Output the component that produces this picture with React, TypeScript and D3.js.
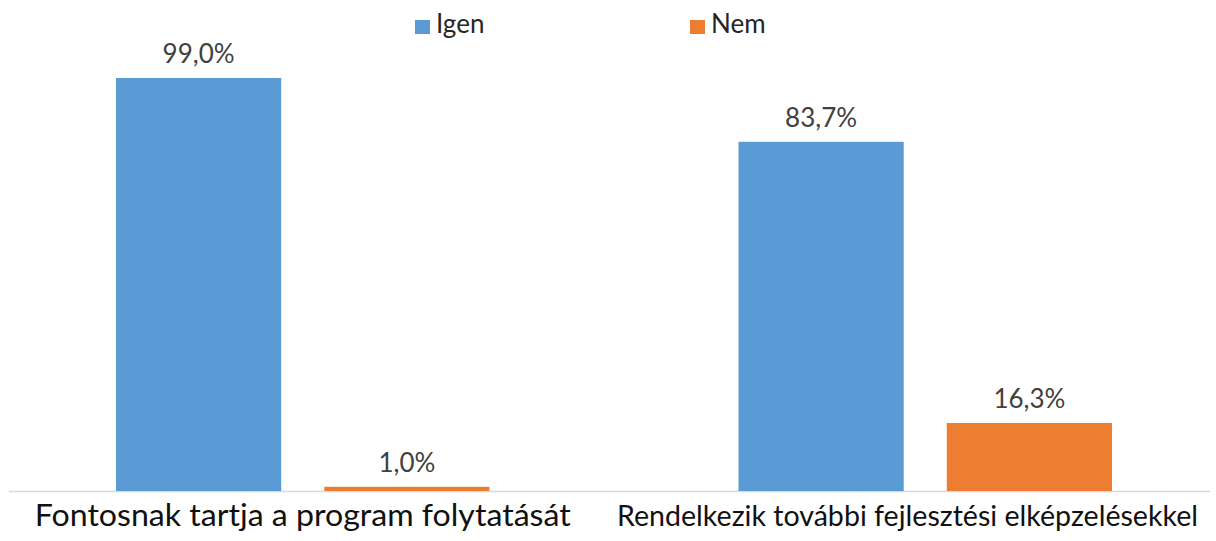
import * as d3 from "d3";

const categories = [
  "Fontosnak tartja a program folytatását",
  "Rendelkezik további fejlesztési elképzelésekkel",
];
const seriesNames = ["Igen", "Nem"];
const igenValues = [99.0, 83.7];
const nemValues = [1.0, 16.3];
const colors = ["#5B9BD5", "#ED7D31"];

const W = 1216;
const H = 541;
const baseline = 491;
const font = "Lato, 'Open Sans', sans-serif";
// approx label widths in the original (Calibri) so Lato text keeps the same span
const labelWidths = [536, 581];
const labelSizes = [30, 29];

export default function App() {
  const x0 = d3
    .scaleBand<string>()
    .domain(categories)
    .range([-8.5, 1236.5])
    .paddingInner(0.4)
    .paddingOuter(0.2);

  const x1 = d3
    .scaleBand<string>()
    .domain(seriesNames)
    .range([0, x0.bandwidth()])
    .paddingInner(0.2067);

  const y = d3.scaleLinear().domain([0, 100]).range([baseline, 73.8]);

  const rows = categories.map((c, i) => ({
    category: c,
    values: [igenValues[i], nemValues[i]],
  }));

  const fmt = (v: number) => d3.format(".1f")(v).replace(".", ",") + "%";

  const legendX = [415, 690];

  return (
    <svg
      width={W}
      height={H}
      style={{ position: "absolute", left: 0, top: 0, background: "#fff" }}
    >
      {/* axis line */}
      <line x1={9} x2={1210} y1={baseline + 0.5} y2={baseline + 0.5} stroke="#D9D9D9" strokeWidth={1.5} />

      {rows.map((r, i) => {
        const gx = x0(r.category) || 0;
        const cx = Math.min(gx + x0.bandwidth() / 2, 1198 - labelWidths[i] / 2);
        return (
          <g key={r.category}>
            <g transform={`translate(${gx},0)`}>
              {r.values.map((v, j) => (
                <g key={seriesNames[j]}>
                  <rect
                    x={x1(seriesNames[j])}
                    y={y(v)}
                    width={x1.bandwidth()}
                    height={baseline - y(v)}
                    fill={colors[j]}
                  />
                  <text
                    x={(x1(seriesNames[j]) || 0) + x1.bandwidth() / 2}
                    y={y(v) - 15}
                    textAnchor="middle"
                    fontFamily={font}
                    fontSize={26}
                    fill="#404040"
                  >
                    {fmt(v)}
                  </text>
                </g>
              ))}
            </g>
            <text
              x={cx}
              y={526}
              textAnchor="middle"
              fontFamily={font}
              fontSize={labelSizes[i]}
              fill="#111"
              textLength={labelWidths[i]}
              lengthAdjust="spacingAndGlyphs"
            >
              {r.category}
            </text>
          </g>
        );
      })}

      {/* legend */}
      {seriesNames.map((s, i) => (
        <g key={s} transform={`translate(${legendX[i]},0)`}>
          <rect x={0} y={20} width={15} height={14} fill={colors[i]} />
          <text x={21} y={33} fontFamily={font} fontSize={26} fill="#262626">
            {s}
          </text>
        </g>
      ))}
    </svg>
  );
}
